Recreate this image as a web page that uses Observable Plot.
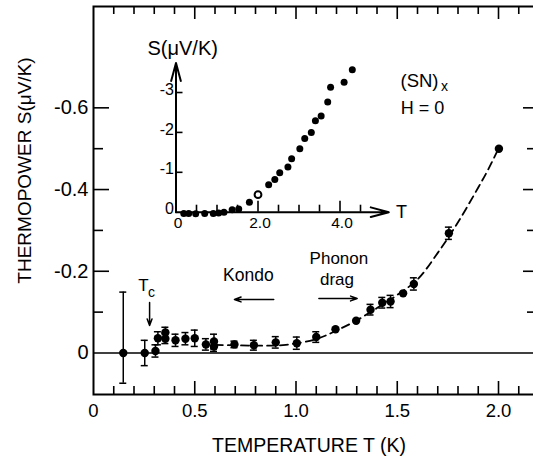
<!DOCTYPE html>
<html><head><meta charset="utf-8">
<script src="https://cdn.jsdelivr.net/npm/d3@7"></script>
<script src="https://cdn.jsdelivr.net/npm/@observablehq/plot@0.6"></script>
<style>
html,body{margin:0;padding:0;background:#fff;}
#wrap{position:relative;width:533px;height:458px;overflow:hidden;background:#fff;}
#wrap svg{position:absolute;left:0;top:0;max-width:none;}
</style></head><body><div id="wrap"></div>
<script>
// ---------- main panel data: thermopower S (µV/K) of (SN)x vs T (K) ----------
const mainT = [0.147,0.253,0.306,0.318,0.355,0.355,0.405,0.454,0.500,0.555,0.595,0.595,0.696,0.792,0.900,1.004,1.100,1.195,1.297,1.368,1.426,1.467,1.529,1.582,1.755,2.002];
const mainS = [0,0,-0.005,-0.036,-0.050,-0.035,-0.031,-0.035,-0.036,-0.021,-0.028,-0.016,-0.021,-0.019,-0.026,-0.024,-0.039,-0.058,-0.079,-0.106,-0.123,-0.126,-0.146,-0.169,-0.293,-0.500];
const mainErrUp   = [0.149,0.031,0.015,0.016,0.013,0.012,0.015,0.015,0.020,0.014,0.018,0.012,0.008,0.012,0.014,0.015,0.013,0,0,0.013,0.013,0.015,0,0.015,0.015,0];
const mainErrDown = [0.074,0.031,0.015,0.016,0.013,0.012,0.015,0.015,0.020,0.014,0.018,0.012,0.008,0.012,0.014,0.015,0.013,0,0,0.013,0.013,0.015,0,0.015,0.015,0];

// dashed guide curve
const curveT = [0.60,0.80,0.95,1.10,1.20,1.30,1.40,1.50,1.60,1.70,1.80,1.90,1.95,2.00];
const curveS = [-0.020,-0.018,-0.020,-0.034,-0.055,-0.080,-0.110,-0.142,-0.180,-0.245,-0.320,-0.405,-0.450,-0.500];

// main axes ticks and labels
const xLabelTicks = [0, 0.5, 1.0, 1.5, 2.0];
const xTickLabels = ["0", "0.5", "1.0", "1.5", "2.0"];
const xMajorTicks = [0.5, 1.0, 1.5, 2.0];
const xMinorTicks = [0.1,0.2,0.3,0.4,0.6,0.7,0.8,0.9,1.1,1.2,1.3,1.4,1.6,1.7,1.8,1.9,2.1];
const yLabelTicks = [0, -0.2, -0.4, -0.6];
const yTickLabels = ["0", "-0.2", "-0.4", "-0.6"];
const yMajorTicks = [-0.2, -0.4, -0.6];
const yMinorTicks = [-0.1, -0.3, -0.5];

// ---------- inset data ----------
const insetT = [0.19,0.31,0.48,0.70,0.91,1.04,1.17,1.37,1.53,1.79,2.00,2.26,2.41,2.53,2.73,2.82,3.02,3.14,3.30,3.40,3.54,3.70,3.77,4.10,4.30];
const insetS = [0.03,0.03,0.04,0.03,0.03,0.02,0,-0.06,-0.08,-0.25,-0.44,-0.69,-0.82,-0.99,-1.13,-1.34,-1.59,-1.85,-2.00,-2.29,-2.41,-2.76,-3.13,-3.26,-3.57];
const insetOpen = [0,0,0,0,0,0,0,0,0,0,1,0,0,0,0,0,0,0,0,0,0,0,0,0,0];
const insetXLabelTicks = [0, 2, 4];
const insetXTickLabels = ["0", "2.0", "4.0"];
const insetXMajorTicks = [2, 4];
const insetXMinorTicks = [0.5, 1, 1.5, 2.5, 3, 3.5, 4.5];
const insetYLabelTicks = [0, -1, -2, -3];
const insetYTickLabels = ["0", "-1", "-2", "-3"];
const insetYTicks = [-1, -2, -3];

// ---------- build ----------
const FONT = "'Liberation Sans', Arial, Helvetica, sans-serif";
const mainRows = mainT.map((T, i) => ({T, S: mainS[i], up: mainErrUp[i], down: mainErrDown[i]}));
const errRows = mainRows.filter(d => d.up > 0 || d.down > 0);
const curveRows = curveT.map((T, i) => ({T, S: curveS[i]}));
const insetRows = insetT.map((T, i) => ({T, S: insetS[i], open: insetOpen[i] === 1}));

const W = 541, H = 458;
const mL = 93, mR = 0, mT = 6, mB = 64;
const innerW = W - mL - mR, innerH = H - mT - mB;

const mainArrows = [
  {x1: 0.277, y1: -0.1236, x2: 0.277, y2: -0.0673},
  {x1: 0.890, y1: -0.131, x2: 0.696, y2: -0.131},
  {x1: 1.113, y1: -0.1334, x2: 1.302, y2: -0.1334}
];

const main = Plot.plot({
  width: W, height: H,
  marginLeft: mL, marginRight: mR, marginTop: mT, marginBottom: mB,
  x: {domain: [0, 2.2123]},
  y: {domain: [0.1016, -0.848]},
  style: {fontFamily: FONT, background: "transparent", maxWidth: "none", color: "black"},
  marks: [
    Plot.frame({stroke: "black", strokeWidth: 2}),
    Plot.ruleY([0], {stroke: "black", strokeWidth: 1.6}),
    // bottom ticks (pointing up)
    Plot.tickX(xMajorTicks, {x: d => d, insetTop: innerH - 13, stroke: "black", strokeWidth: 1.6}),
    Plot.tickX(xMinorTicks, {x: d => d, insetTop: innerH - 8, stroke: "black", strokeWidth: 1.6}),
    // top ticks (pointing down)
    Plot.tickX(xMajorTicks, {x: d => d, insetBottom: innerH - 13, stroke: "black", strokeWidth: 1.6}),
    Plot.tickX(xMinorTicks, {x: d => d, insetBottom: innerH - 8, stroke: "black", strokeWidth: 1.6}),
    // left ticks (pointing right)
    Plot.tickY(yMajorTicks, {y: d => d, insetRight: innerW - 16, stroke: "black", strokeWidth: 1.6}),
    Plot.tickY(yMinorTicks, {y: d => d, insetRight: innerW - 10, stroke: "black", strokeWidth: 1.6}),
    // right ticks (pointing left)
    Plot.tickY(yMajorTicks, {y: d => d, insetLeft: innerW - 18, stroke: "black", strokeWidth: 1.6}),
    Plot.tickY(yMinorTicks, {y: d => d, insetLeft: innerW - 14, stroke: "black", strokeWidth: 1.6}),
    Plot.axisX({ticks: xLabelTicks, tickFormat: d => xTickLabels[xLabelTicks.indexOf(d)], tickSize: 0, tickPadding: 9.5, fontSize: 18.5, label: null}),
    Plot.axisY({ticks: yLabelTicks, tickFormat: d => yTickLabels[yLabelTicks.indexOf(d)], tickSize: 0, tickPadding: 5, fontSize: 20, label: null}),
    // dashed curve
    Plot.line(curveRows, {x: "T", y: "S", curve: "catmull-rom", stroke: "black", strokeWidth: 1.8, strokeDasharray: "8,5"}),
    // error bars
    Plot.ruleX(errRows, {x: "T", y1: d => d.S - d.up, y2: d => d.S + d.down, stroke: "black", strokeWidth: 1.5}),
    Plot.ruleY(errRows, {y: d => d.S - d.up, x1: "T", x2: "T", insetLeft: -3.5, insetRight: -3.5, stroke: "black", strokeWidth: 1.5}),
    Plot.ruleY(errRows, {y: d => d.S + d.down, x1: "T", x2: "T", insetLeft: -3.5, insetRight: -3.5, stroke: "black", strokeWidth: 1.5}),
    Plot.dot(mainRows, {x: "T", y: "S", r: 4.2, fill: "black"}),
    // annotations
    Plot.arrow(mainArrows, {x1: "x1", y1: "y1", x2: "x2", y2: "y2", stroke: "black", strokeWidth: 1.5, headLength: 7, headAngle: 40}),
    Plot.text([{t: "T", x: 0.247, y: -0.1505}], {x: "x", y: "y", text: "t", fontSize: 17, lineAnchor: "bottom"}),
    Plot.text([{t: "c", x: 0.286, y: -0.138}], {x: "x", y: "y", text: "t", fontSize: 14, lineAnchor: "bottom"}),
    Plot.text([{t: "Kondo", x: 0.765, y: -0.1774}], {x: "x", y: "y", text: "t", fontSize: 17.5, lineAnchor: "bottom"}),
    Plot.text([{t: "Phonon", x: 1.212, y: -0.2166}, {t: "drag", x: 1.2025, y: -0.1676}], {x: "x", y: "y", text: "t", fontSize: 17, lineAnchor: "bottom"}),
    Plot.text([{t: "(SN)", x: 1.516, y: -0.650}], {x: "x", y: "y", text: "t", fontSize: 18.5, lineAnchor: "bottom", textAnchor: "start"}),
    Plot.text([{t: "x", x: 1.716, y: -0.640}], {x: "x", y: "y", text: "t", fontSize: 14, lineAnchor: "bottom", textAnchor: "start"}),
    Plot.text([{t: "H = 0", x: 1.625, y: -0.586}], {x: "x", y: "y", text: "t", fontSize: 18, lineAnchor: "bottom"}),
    Plot.text([{t: "TEMPERATURE T (K)", x: 1.064, y: 0.2435}], {x: "x", y: "y", text: "t", fontSize: 19.5, lineAnchor: "bottom"}),
    Plot.text([{t: "THERMOPOWER S(\u03BCV/K)", x: -0.3407, y: -0.4466}], {x: "x", y: "y", text: "t", fontSize: 19, rotate: -90, lineAnchor: "middle"})
  ]
});

// ---------- inset ----------
const iL = 175.5, iR = 152.7, iT = 62.5, iB = 246.3;
const iW = W - iL - iR, iH = H - iT - iB;
const insetAxes = [
  {x1: 0, y1: 0, x2: 0, y2: -3.74},
  {x1: 0, y1: 0, x2: 5.19, y2: 0}
];
const inset = Plot.plot({
  width: W, height: H,
  marginLeft: iL, marginRight: iR, marginTop: iT, marginBottom: iB,
  x: {domain: [0, 5.19]},
  y: {domain: [0, -3.74]},
  style: {fontFamily: FONT, background: "transparent", maxWidth: "none", color: "black"},
  marks: [
    Plot.arrow(insetAxes, {x1: "x1", y1: "y1", x2: "x2", y2: "y2", stroke: "black", strokeWidth: 2, headLength: 14, headAngle: 30}),
    Plot.tickX(insetXMajorTicks, {x: d => d, insetTop: iH - 11, stroke: "black", strokeWidth: 1.6}),
    Plot.tickX(insetXMinorTicks, {x: d => d, insetTop: iH - 7, stroke: "black", strokeWidth: 1.6}),
    Plot.tickY(insetYTicks, {y: d => d, insetRight: iW - 7, stroke: "black", strokeWidth: 1.6}),
    Plot.axisX({ticks: insetXLabelTicks, tickFormat: d => insetXTickLabels[insetXLabelTicks.indexOf(d)], tickSize: 0, tickPadding: 4.5, dx: 2, fontSize: 15.5, label: null}),
    Plot.axisY({ticks: insetYLabelTicks, tickFormat: d => insetYTickLabels[insetYLabelTicks.indexOf(d)], tickSize: 0, tickPadding: 2, dy: -3, fontSize: 16, label: null}),
    Plot.dot(insetRows.filter(d => !d.open), {x: "T", y: "S", r: 3.5, fill: "black"}),
    Plot.dot(insetRows.filter(d => d.open), {x: "T", y: "S", r: 3.4, fill: "white", stroke: "black", strokeWidth: 2}),
    Plot.text([{t: "S(\u03BCV/K)", x: -0.695, y: -3.952}], {x: "x", y: "y", text: "t", fontSize: 20, lineAnchor: "bottom", textAnchor: "start"}),
    Plot.text([{t: "T", x: 5.5, y: 0}], {x: "x", y: "y", text: "t", fontSize: 18, lineAnchor: "middle"})
  ]
});

const wrap = document.getElementById("wrap");
wrap.appendChild(main);
wrap.appendChild(inset);
</script>
</body></html>
